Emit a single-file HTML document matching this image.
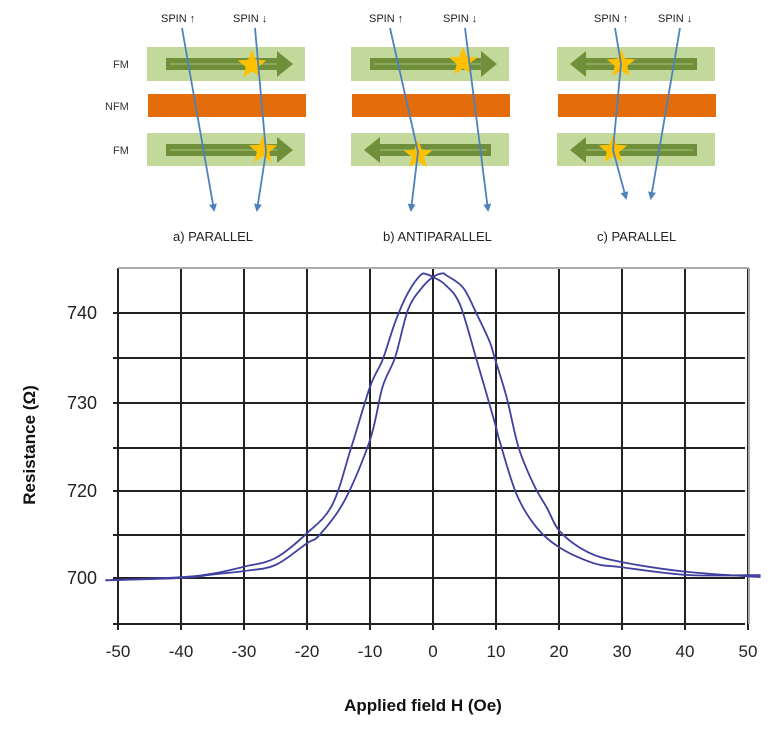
<!DOCTYPE html>
<html><head><meta charset="utf-8"><style>
html,body{margin:0;padding:0;background:#fff;}
svg{display:block;font-family:"Liberation Sans",sans-serif;}
</style></head><body>
<svg id="fig" width="775" height="730" viewBox="0 0 775 730" xmlns="http://www.w3.org/2000/svg">
<defs>
<marker id="ah" markerWidth="8" markerHeight="8" refX="6" refY="4" orient="auto" markerUnits="userSpaceOnUse"><path d="M0,0 L8,4 L0,8 Z" fill="#4f81bd"/></marker>
</defs>
<g id="diagram"></g>
<g id="chart"></g>
</svg>
<script>
// ---------- chart data ----------
const tickX = [-50,-40,-30,-20,-10,0,10,20,30,40,50];
const tickYLabels = ["740","730","720","700"];
const branchA_H = [-52,-40,-35,-30,-25,-20,-16,-13,-10,-8,-6,-4,-2,-1,0,2,4.3,7,9.8,10.6,13.3,16.5,20.2,25.5,29.8,40.4,52];
const branchA_R = [699.5,700.2,701.0,702.6,704.6,710.3,716.8,724.9,731.8,734.8,739.0,742.2,744.2,744.3,744.0,743.1,740.9,734.6,727.8,725.6,719.1,711.5,706.9,703.4,702.5,700.7,700.7];
const branchB_H = [-52,-40,-35,-30,-25,-20,-18,-14,-10,-8,-6,-4,-2,0,1.5,2.1,4.8,7,9,9.8,11.7,13.6,16,18.1,20.2,24.5,29.8,40.4,52];
const branchB_R = [699.5,700,700.8,701.6,703.0,708.0,709.9,717.9,725.8,731.8,735.1,740.3,742.6,744.0,744.4,744.2,742.8,739.8,736.8,735,730.6,724.9,720.7,716.1,710.6,706.0,703.7,701.4,700.2];

const NS="http://www.w3.org/2000/svg";
function mk(tag, attrs, parent){const e=document.createElementNS(NS,tag);for(const k in attrs)e.setAttribute(k,attrs[k]);parent.appendChild(e);return e;}

function xs(h){return 433 + h*6.3;}
const yKnR=[690,700,720,730,740,745];
const yKnP=[624,578,491,403,313,268];
function ys(r){
  for(let i=0;i<yKnR.length-1;i++){
    if(r<=yKnR[i+1]||i===yKnR.length-2){
      const t=(r-yKnR[i])/(yKnR[i+1]-yKnR[i]);
      return yKnP[i]+t*(yKnP[i+1]-yKnP[i]);
    }
  }
}
const chart=document.getElementById('chart');
const gridY=[313,358,403,448,491,535,578,624];
gridY.forEach((y,i)=>{
  const l=mk('line',{x1:113,x2:745,y1:y,y2:y,stroke:'#222','stroke-width':2},chart);
  
  
});
tickX.forEach(v=>{
  const l=mk('line',{x1:xs(v),x2:xs(v),y1:268,y2:630,stroke:'#222','stroke-width':2},chart);
  
  
  const t=mk('text',{x:xs(v),y:657,'text-anchor':'middle','font-size':17,fill:'#222'},chart);
  t.textContent=String(v);
  
  
});
const tb=mk('line',{x1:118,x2:749,y1:268,y2:268,stroke:'#aaa','stroke-width':2},chart);


const rb=mk('line',{x1:749,x2:749,y1:268,y2:624,stroke:'#aaa','stroke-width':2},chart);


const yLabelVals=[740,730,720,700];
tickYLabels.forEach((s,i)=>{
  const t=mk('text',{x:97,y:ys(yLabelVals[i])+6,'text-anchor':'end','font-size':18,fill:'#222'},chart);
  t.textContent=s;
  
  
});
function drawBranch(H,R,name){
  const P=H.map((h,i)=>[xs(h),ys(R[i])]);
  let d='M'+P[0][0].toFixed(1)+','+P[0][1].toFixed(1);
  for(let i=0;i<P.length-1;i++){
    const p0=P[i-1]||P[i],p1=P[i],p2=P[i+1],p3=P[i+2]||P[i+1];
    const c1=[p1[0]+(p2[0]-p0[0])/6,p1[1]+(p2[1]-p0[1])/6];
    const c2=[p2[0]-(p3[0]-p1[0])/6,p2[1]-(p3[1]-p1[1])/6];
    d+=` C${c1[0].toFixed(1)},${c1[1].toFixed(1)} ${c2[0].toFixed(1)},${c2[1].toFixed(1)} ${p2[0].toFixed(1)},${p2[1].toFixed(1)}`;
  }
  const p=mk('path',{d:d,fill:'none',stroke:'#4040a0','stroke-width':1.8,'stroke-linejoin':'round'},chart);
  
  
}
drawBranch(branchA_H,branchA_R,'sweep-down-curve');
drawBranch(branchB_H,branchB_R,'sweep-up-curve');
const yt=mk('text',{x:0,y:0,transform:'translate(35,445) rotate(-90)','text-anchor':'middle','font-size':17,'font-weight':'bold',fill:'#111'},chart);
yt.textContent='Resistance (Ω)';


const xt=mk('text',{x:423,y:711,'text-anchor':'middle','font-size':17,'font-weight':'bold',fill:'#111'},chart);
xt.textContent='Applied field H (Oe)';



// ---------- diagram ----------
const dg=document.getElementById('diagram');
function star(cx,cy,parent){
  let pts=[];for(let i=0;i<10;i++){const r=i%2?6.5:15;const a=-Math.PI/2+i*Math.PI/5;pts.push((cx+r*Math.cos(a)).toFixed(1)+','+(cy+r*Math.sin(a)).toFixed(1));}
  const s=mk('polygon',{points:pts.join(' '),fill:'#ffc000'},parent);
  
  
}
function arrow(x1,x2,y,parent){
  const dir=x2>x1?1:-1;const hx=x2-dir*16;
  const p=mk('path',{d:`M${x1},${y-6} L${hx},${y-6} L${hx},${y-13} L${x2},${y} L${hx},${y+13} L${hx},${y+6} L${x1},${y+6} Z`,fill:'#6f8f3b'},parent);
  
  
  mk('line',{x1:x1+dir*4,x2:hx,y1:y,y2:y,stroke:'#a9c27a','stroke-width':1},parent);
}
const panels=[
 {x:147,dirs:[1,1],up:[[182,28],[214,210]],down:[[255,28],[266,152],[257,210]],stars:[[252,65],[263,150]],label:'a) PARALLEL',lx:173},
 {x:351,dirs:[1,-1],up:[[390,28],[418,152],[411,210]],down:[[465,28],[488,210]],stars:[[463,62],[418,155]],label:'b) ANTIPARALLEL',lx:383},
 {x:557,dirs:[-1,-1],up:[[615,28],[621,64],[613,150],[626,198]],down:[[680,28],[651,198]],stars:[[621,64],[613,150]],label:'c) PARALLEL',lx:597}
];
panels.forEach((p,k)=>{
  const g=mk('g',{},dg);
  
  
  const f1=mk('rect',{x:p.x,y:47,width:158,height:34,fill:'#c3d99c'},g);
  
  
  const nf=mk('rect',{x:p.x+1,y:94,width:158,height:23,fill:'#e46c0a'},g);
  
  
  const f2=mk('rect',{x:p.x,y:133,width:158,height:33,fill:'#c3d99c'},g);
  
  
  [[64,p.dirs[0]],[150,p.dirs[1]]].forEach(([y,d])=>{
    if(d>0)arrow(p.x+19,p.x+146,y,g);else arrow(p.x+140,p.x+13,y,g);
  });
  p.stars.forEach(s=>star(s[0],s[1],g));
  [p.up,p.down].forEach((pts,j)=>{
    const l=mk('polyline',{points:pts.map(q=>q.join(',')).join(' '),fill:'none',stroke:'#4f81bd','stroke-width':1.8,'marker-end':'url(#ah)'},g);
    
    
  });
  const t1=mk('text',{x:p.up[0][0]-21,y:22,'font-size':11,fill:'#222'},g);
  t1.textContent='SPIN ↑';
  
  
  const t2=mk('text',{x:p.down[0][0]-22,y:22,'font-size':11,fill:'#222'},g);
  t2.textContent='SPIN ↓';
  
  
  const lb=mk('text',{x:p.lx,y:241,'font-size':13,fill:'#222'},g);
  lb.textContent=p.label;
  
  
});
[['FM',113,68],['NFM',105,110],['FM',113,154]].forEach(([s,x,y])=>{
  const t=mk('text',{x:x,y:y,'font-size':11,fill:'#333'},dg);
  t.textContent=s;
  
  
});
</script>
</body></html>
